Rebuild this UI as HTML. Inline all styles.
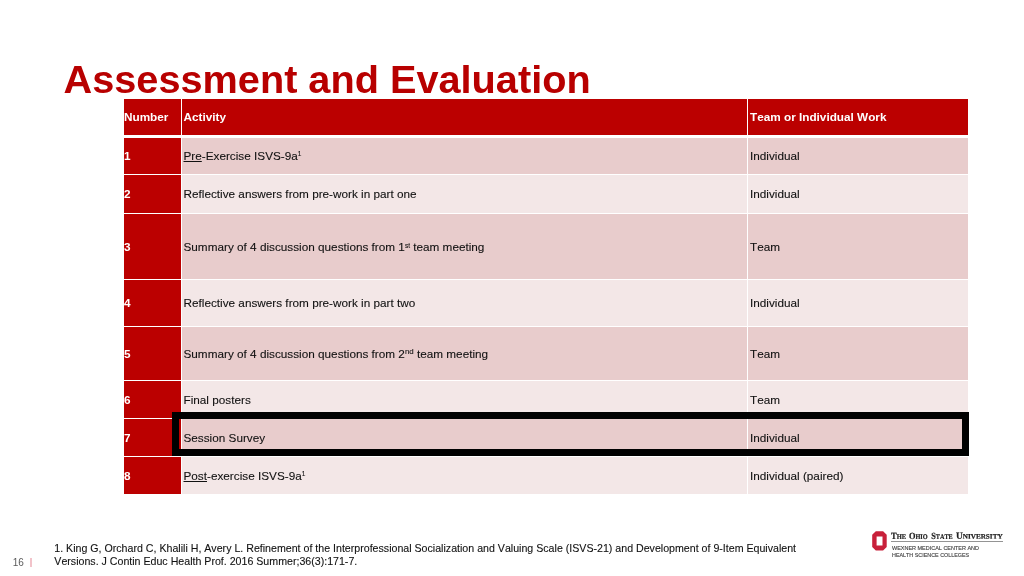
<!DOCTYPE html>
<html><head><meta charset="utf-8">
<style>
html,body{margin:0;padding:0;}
body{font-kerning:none;width:1024px;height:576px;background:#fff;position:relative;overflow:hidden;font-family:"Liberation Sans",sans-serif;}
.title{position:absolute;left:63.5px;top:56px;font-size:39.7px;font-weight:bold;color:#b80000;white-space:nowrap;line-height:46px;}
.r{position:absolute;left:124px;width:844px;}
.c{position:absolute;top:0;bottom:0;font-size:11.75px;color:#111;display:flex;align-items:center;white-space:nowrap;padding-bottom:1px;box-sizing:border-box;}
.c1{left:0;width:57px;background:#bb0000;color:#fff;font-weight:bold;}
.c2{left:58px;width:565px;padding-left:1.5px;box-sizing:border-box;}
.c3{left:624px;width:220px;padding-left:2px;box-sizing:border-box;}
.r8 .c{padding-bottom:0;padding-top:1px;}
.h .c{background:#bb0000;color:#fff;font-weight:bold;}
.a .c2,.a .c3{background:#e8cccc;}
.c2,.c3,.fn{-webkit-text-stroke:0.1px #111;}
.h .c2,.h .c3{-webkit-text-stroke:0;}
.b .c2,.b .c3{background:#f3e7e7;}
sup{font-size:7.9px;vertical-align:baseline;position:relative;top:-3.4px;line-height:0;}
sup.s1{font-size:6.5px;top:-3.9px;}
u{text-decoration:underline;}
.box{position:absolute;left:172px;top:412px;width:797.3px;height:43.8px;border:7px solid #000;box-sizing:border-box;}
.fn{position:absolute;left:54.3px;top:542.3px;font-size:10.63px;line-height:12.9px;color:#111;white-space:nowrap;}
.pg{position:absolute;left:12.8px;top:557px;font-size:10px;line-height:12px;color:#5a5a5a;white-space:nowrap;}
.pg span{position:absolute;left:17px;top:-0.6px;font-size:9.6px;color:#e0707f;}
</style></head><body>
<div class="title">Assessment and Evaluation</div>

<div class="r h" style="top:99px;height:36px"><div class="c c1">Number</div><div class="c c2">Activity</div><div class="c c3">Team or Individual Work</div></div>
<div class="r a" style="top:138px;height:36px"><div class="c c1">1</div><div class="c c2"><span><u>Pre</u>-Exercise ISVS-9a<sup class="s1">1</sup></span></div><div class="c c3">Individual</div></div>
<div class="r b" style="top:175px;height:38px"><div class="c c1">2</div><div class="c c2">Reflective answers from pre-work in part one</div><div class="c c3">Individual</div></div>
<div class="r a" style="top:214px;height:65px"><div class="c c1">3</div><div class="c c2"><span>Summary of 4 discussion questions from 1<sup class="s1" style="top:-2.9px">st</sup> team meeting</span></div><div class="c c3">Team</div></div>
<div class="r b" style="top:280px;height:46px"><div class="c c1">4</div><div class="c c2">Reflective answers from pre-work in part two</div><div class="c c3">Individual</div></div>
<div class="r a" style="top:327px;height:53px"><div class="c c1">5</div><div class="c c2"><span>Summary of 4 discussion questions from 2<sup>nd</sup> team meeting</span></div><div class="c c3">Team</div></div>
<div class="r b" style="top:381px;height:37px"><div class="c c1">6</div><div class="c c2">Final posters</div><div class="c c3">Team</div></div>
<div class="r a" style="top:419px;height:37px"><div class="c c1">7</div><div class="c c2">Session Survey</div><div class="c c3">Individual</div></div>
<div class="r b r8" style="top:457px;height:36.5px"><div class="c c1">8</div><div class="c c2"><span><u>Post</u>-exercise ISVS-9a<sup class="s1">1</sup></span></div><div class="c c3">Individual (paired)</div></div>

<div class="box"></div>
<svg class="logo" style="position:absolute;left:864px;top:524px" width="160" height="44" viewBox="864 524 160 44">
<path fill="#c8203a" fill-rule="evenodd" d="M875.8 531.2H883.1L886.7 534.8V547L883.1 550.6H875.8L872.2 547V534.8ZM876.6 536.5V545.5H882.5V536.5Z"/>
<g transform="rotate(0.03 940 538) scale(0.1)" font-family="'Liberation Serif',serif" font-weight="bold" fill="#222" stroke="#222" stroke-width="2">
<text x="8911" y="5388" textLength="151" lengthAdjust="spacingAndGlyphs"><tspan font-size="94">T</tspan><tspan font-size="71">HE</tspan></text>
<text x="9090" y="5388" textLength="187" lengthAdjust="spacingAndGlyphs"><tspan font-size="94">O</tspan><tspan font-size="71">HIO</tspan></text>
<text x="9312" y="5388" textLength="215" lengthAdjust="spacingAndGlyphs"><tspan font-size="94">S</tspan><tspan font-size="71">TATE</tspan></text>
<text x="9559" y="5388" textLength="467" lengthAdjust="spacingAndGlyphs"><tspan font-size="94">U</tspan><tspan font-size="71">NIVERSITY</tspan></text>
</g>
<rect x="891" y="541" width="112" height="0.7" fill="#666"/>
<text x="892" y="550.2" font-family="'Liberation Sans',sans-serif" font-size="4.9" fill="#444" stroke="#444" stroke-width="0.12" textLength="87" lengthAdjust="spacingAndGlyphs">WEXNER MEDICAL CENTER AND</text>
<text x="892" y="557.1" font-family="'Liberation Sans',sans-serif" font-size="4.9" fill="#444" stroke="#444" stroke-width="0.12" textLength="77.2" lengthAdjust="spacingAndGlyphs">HEALTH SCIENCE COLLEGES</text>
</svg>


<div class="fn">1. King G, Orchard C, Khalili H, Avery L. Refinement of the Interprofessional Socialization and Valuing Scale (ISVS-21) and Development of 9-Item Equivalent<br>Versions. J Contin Educ Health Prof. 2016 Summer;36(3):171-7.</div>
<div class="pg">16 <span>|</span></div>
</body></html>
